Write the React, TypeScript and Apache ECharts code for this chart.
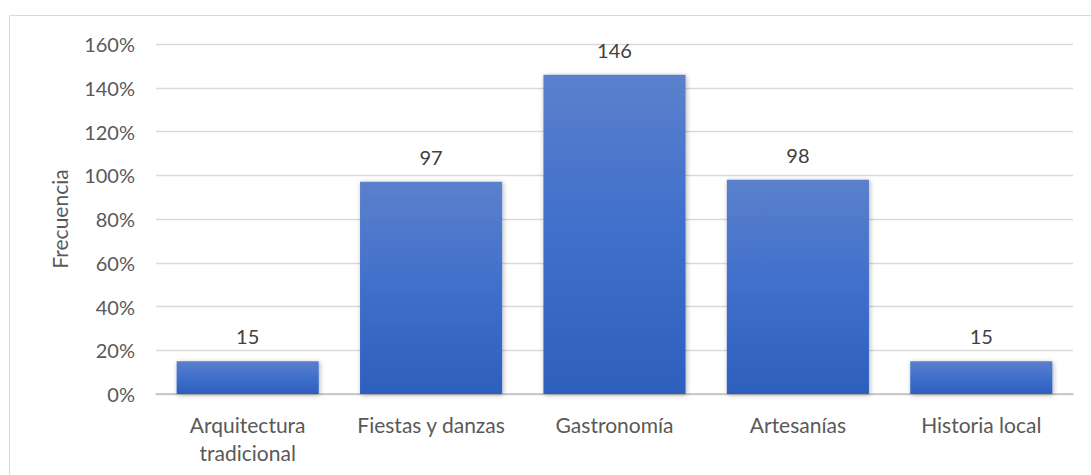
import React, { useEffect, useRef } from "react";
import * as echarts from "echarts";

const categories = ["Arquitectura\ntradicional", "Fiestas y danzas", "Gastronomía", "Artesanías", "Historia local"];
const values = [15, 97, 146, 98, 15];
const yTicks = { min: 0, max: 160, interval: 20 };

export default function App() {
  const ref = useRef<HTMLDivElement>(null);
  useEffect(() => {
    const chart = echarts.init(ref.current!, null, { renderer: "svg" });
    chart.setOption({
      animation: false,
      textStyle: { fontFamily: "Lato" },
      graphic: [
        {
          type: "rect",
          shape: { x: 9.5, y: 15.5, width: 1200, height: 600 },
          style: { fill: "none", stroke: "#d9d9d9", lineWidth: 1 },
          silent: true,
        },
      ],
      grid: { left: 156, right: 18, top: 44, bottom: 81 },
      xAxis: {
        type: "category",
        data: categories,
        axisLine: { lineStyle: { color: "#bfbfbf", width: 1.5 } },
        axisTick: { show: false },
        axisLabel: { interval: 0, hideOverlap: false, color: "#595959", fontSize: 21, lineHeight: 28, margin: 16, fontFamily: "Lato" },
      },
      yAxis: {
        type: "value",
        min: yTicks.min,
        max: yTicks.max,
        interval: yTicks.interval,
        name: "Frecuencia",
        nameLocation: "middle",
        nameGap: 86,
        nameTextStyle: { color: "#595959", fontSize: 21, fontFamily: "Lato" },
        axisLine: { show: false },
        axisTick: { show: false },
        splitLine: { lineStyle: { color: "#d9d9d9", width: 1.3 } },
        axisLabel: { color: "#595959", fontSize: 20, margin: 21, formatter: "{value}%", fontFamily: "Lato" },
      },
      series: [
        {
          type: "bar",
          data: values,
          barWidth: "77.5%",
          itemStyle: {
            color: new echarts.graphic.LinearGradient(0, 0, 0, 1, [
              { offset: 0, color: "#5b80cc" },
              { offset: 0.5, color: "#3f6fcb" },
              { offset: 1, color: "#2e5fbd" },
            ]),
            shadowBlur: 5,
            shadowColor: "rgba(0,0,0,0.3)",
            shadowOffsetX: 1,
            shadowOffsetY: 1,
          },
          label: {
            show: true,
            position: "top",
            distance: 15,
            color: "#404040",
            fontSize: 20,
            fontFamily: "Lato",
          },
        },
      ],
    });
    return () => chart.dispose();
  }, []);
  return <div ref={ref} style={{ position: "fixed", left: 0, top: 0, width: 1091, height: 475, background: "#fff" }} />;
}
